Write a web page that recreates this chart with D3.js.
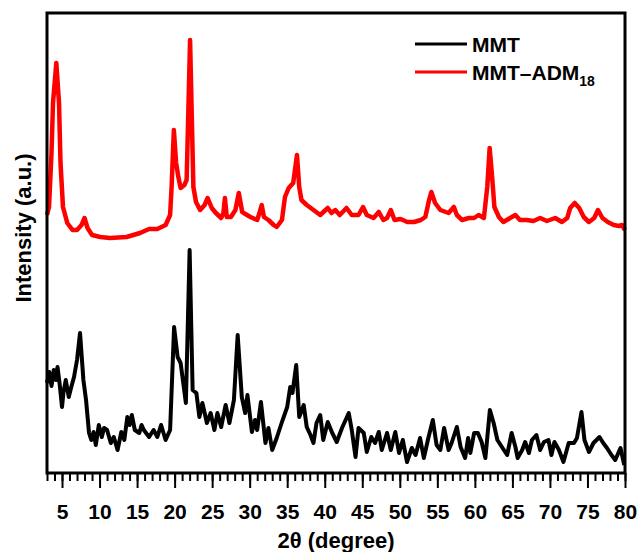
<!DOCTYPE html>
<html>
<head>
<meta charset="utf-8">
<script src="https://cdn.jsdelivr.net/npm/d3@7"></script>
<style>
  body { margin: 0; background: #fff; }
  text { font-family: "Liberation Sans", Arial, sans-serif; font-weight: bold; }
</style>
</head>
<body>
<div id="chart-area"></div>
<script>
const SVG_WIDTH = 640;
const SVG_HEIGHT = 552;
const margin = { left: 47, right: 15, top: 13, bottom: 79 };
const WIDTH = SVG_WIDTH - margin.left - margin.right;
const HEIGHT = SVG_HEIGHT - margin.top - margin.bottom;

// 2theta (degree), intensity in a.u.
const mmtAngle = [3.0, 3.3, 3.6, 3.9, 4.2, 4.4, 4.7, 5.0, 5.2, 5.5, 5.9, 6.2, 6.6, 7.0, 7.4, 7.85, 8.2, 8.6, 8.9, 9.2,
    9.5, 9.9, 10.3, 10.6, 11.0, 11.5, 11.9, 12.4, 12.9, 13.3, 13.7, 14.0, 14.3, 14.7, 15.3, 15.6, 15.9, 16.6, 17.2, 17.7,
    18.2, 18.8, 19.4, 19.93, 20.4, 20.8, 21.1, 21.5, 22.0, 22.4, 22.9, 23.3, 23.7, 24.3, 24.8, 25.3, 25.7, 26.2, 26.8, 27.3,
    27.9, 28.4, 28.95, 29.4, 29.7, 30.3, 30.7, 31.0, 31.5, 32.1, 32.5, 33.0, 33.6, 34.3, 35.0, 35.4, 35.7, 36.2, 36.6, 37.2,
    37.6, 38.1, 38.5, 38.9, 39.4, 39.8, 40.4, 41.0, 41.6, 42.3, 43.2, 43.6, 44.1, 44.5, 45.2, 45.6, 46.2, 46.7, 47.2, 47.6,
    48.3, 48.8, 49.4, 49.9, 50.4, 50.96, 51.6, 52.1, 52.7, 53.2, 53.8, 54.4, 54.9, 55.4, 55.9, 56.5, 56.9, 57.6, 58.1, 58.7,
    59.1, 59.4, 59.9, 60.4, 60.9, 61.4, 62.0, 62.5, 63.0, 63.6, 64.3, 64.9, 65.4, 65.7, 66.3, 66.7, 67.2, 67.6, 68.2, 68.7,
    69.2, 69.8, 70.2, 70.6, 71.2, 71.8, 72.5, 73.2, 73.6, 74.2, 74.6, 75.2, 75.8, 76.6, 77.1, 77.6, 78.2, 78.7, 79.4, 79.9];
const mmtIntensity = [90, 101, 87, 103, 93, 106, 88, 66, 81, 93, 76, 85, 96, 113, 140, 93, 73, 40, 33, 41,
    28, 48, 36, 45, 43, 30, 36, 23, 41, 33, 56, 48, 58, 43, 40, 48, 43, 36, 43, 36,
    48, 33, 43, 146, 116, 110, 93, 70, 223, 83, 80, 56, 70, 50, 60, 43, 60, 46, 68, 50,
    73, 138, 76, 60, 78, 41, 53, 43, 71, 30, 45, 23, 35, 51, 66, 86, 80, 108, 56, 68,
    46, 38, 30, 50, 58, 33, 51, 40, 31, 45, 60, 43, 16, 45, 40, 21, 36, 30, 41, 23,
    40, 23, 41, 20, 33, 11, 25, 18, 35, 15, 35, 53, 28, 23, 45, 23, 30, 46, 26, 15,
    35, 20, 40, 40, 31, 15, 63, 50, 33, 26, 18, 40, 26, 15, 23, 31, 20, 33, 38, 23,
    31, 33, 18, 31, 23, 11, 30, 30, 35, 61, 33, 21, 30, 36, 30, 25, 18, 13, 25, 8];

const admAngle = [3.0, 3.27, 3.6, 3.8, 4.24, 4.6, 4.8, 5.13, 5.7, 6.4, 7.0, 7.6, 8.0, 8.4, 9.0, 10.1, 11.4, 13.6, 15.4, 16.6,
    17.7, 18.8, 19.4, 19.6, 19.9, 20.2, 20.5, 20.8, 21.3, 21.6, 21.8, 22.06, 22.3, 22.5, 22.85, 23.4, 24.0, 24.4, 24.95, 25.5,
    26.2, 26.5, 26.7, 26.95, 27.5, 28.1, 28.55, 29.0, 29.2, 30.1, 31.0, 31.3, 31.6, 31.9, 32.5, 33.2, 33.6, 34.3, 34.7, 35.2,
    35.8, 36.3, 36.6, 36.9, 37.6, 38.5, 39.4, 40.4, 40.9, 41.4, 42.0, 42.9, 43.6, 44.5, 45.1, 45.6, 46.5, 47.2, 47.8, 48.3,
    48.8, 49.3, 50.1, 51.0, 51.9, 52.8, 53.4, 53.9, 54.2, 54.7, 55.4, 56.5, 57.2, 57.6, 58.3, 59.2, 59.9, 60.5, 61.2, 61.65,
    61.97, 62.3, 62.6, 63.2, 63.8, 64.7, 65.4, 66.0, 66.9, 67.8, 68.7, 69.6, 70.7, 71.6, 72.3, 72.7, 73.3, 73.9, 74.5, 75.2,
    75.9, 76.4, 77.0, 77.7, 78.5, 79.2, 79.6, 80.0];
const admIntensity = [258, 266, 320, 370, 410, 370, 310, 266, 250, 243, 243, 248, 255, 245, 238, 236, 235, 236, 240, 244,
    244, 248, 258, 286, 343, 310, 296, 285, 288, 293, 353, 433, 353, 286, 271, 263, 268, 275, 265, 260,
    255, 260, 275, 256, 256, 263, 280, 261, 260, 256, 253, 260, 268, 256, 253, 248, 246, 253, 276, 285,
    290, 318, 286, 273, 268, 263, 258, 265, 260, 263, 258, 265, 258, 258, 266, 258, 255, 261, 253, 255,
    263, 253, 254, 251, 251, 253, 256, 273, 281, 270, 263, 260, 266, 258, 253, 255, 255, 258, 255, 286,
    325, 296, 266, 256, 251, 255, 258, 253, 253, 252, 255, 252, 255, 251, 255, 265, 270, 265, 256, 251,
    255, 263, 255, 251, 248, 247, 248, 243];

const seriesNames = ["MMT", "MMT\u2013ADM"];
const seriesColors = ["#000000", "#ff0000"];
const majorTicks = [5, 10, 15, 20, 25, 30, 35, 40, 45, 50, 55, 60, 65, 70, 75, 80];

const svg = d3.select("#chart-area").append("svg").attr("width", SVG_WIDTH).attr("height", SVG_HEIGHT);
const group = svg.append("g").attr("transform", `translate(${margin.left},${margin.top})`);

const x = d3.scaleLinear().domain([3, 80]).range([0, WIDTH]);
const y = d3.scaleLinear().domain([0, 460]).range([HEIGHT, 0]);

const line = d3.line().x(d => x(d[0])).y(d => y(d[1]));

const series = [
    { name: seriesNames[0], color: seriesColors[0], width: 4, points: d3.zip(mmtAngle, mmtIntensity) },
    { name: seriesNames[1], color: seriesColors[1], width: 4.5, points: d3.zip(admAngle, admIntensity) }
];

series.forEach(s => {
    group.append("path").
        attr("d", line(s.points)).
        attr("fill", "none").
        attr("stroke", s.color).
        attr("stroke-width", s.width).
        attr("stroke-linejoin", "round");
});

// minor ticks every degree, major every 5 degrees
const minorAxis = d3.axisBottom(x).tickValues(d3.range(3, 81)).tickSize(8).tickFormat("");
const majorAxis = d3.axisBottom(x).tickValues(majorTicks).tickSize(15).tickPadding(16).tickFormat(d3.format("d"));

const minorGroup = group.append("g").attr("transform", `translate(0, ${HEIGHT})`).call(minorAxis);
const majorGroup = group.append("g").attr("transform", `translate(0, ${HEIGHT})`).call(majorAxis);
[minorGroup, majorGroup].forEach(g => {
    g.select(".domain").remove();
    g.selectAll(".tick line").attr("stroke", "#000").attr("stroke-width", 2);
});
majorGroup.selectAll(".tick text").
    attr("font-size", "21px").
    attr("fill", "#000");

group.append("rect").
    attr("width", WIDTH).
    attr("height", HEIGHT).
    attr("fill", "none").
    attr("stroke", "#000").
    attr("stroke-width", 3);

group.append("text").
    attr("x", WIDTH / 2).
    attr("y", HEIGHT + 75).
    attr("font-size", "22px").
    attr("text-anchor", "middle").
    text("2\u03b8 (degree)");

group.append("text").
    attr("x", -(228 - margin.top)).
    attr("y", 31 - margin.left).
    attr("font-size", "22px").
    attr("text-anchor", "middle").
    attr("transform", "rotate(-90)").
    text("Intensity (a.u.)");

const legend = group.append("g").attr("transform", `translate(${415 - margin.left}, ${44 - margin.top})`);
series.forEach((s, i) => {
    const row = legend.append("g").attr("transform", `translate(0, ${i * 28})`);
    row.append("line").
        attr("x1", 0).attr("x2", 52).
        attr("y1", 0).attr("y2", 0).
        attr("stroke", s.color).
        attr("stroke-width", 3);
    const label = row.append("text").
        attr("x", 57).
        attr("y", 8).
        attr("font-size", "21px").
        text(s.name);
    if (i === 1) {
        label.append("tspan").attr("font-size", "14px").attr("dy", 6).text("18");
    }
});
</script>
</body>
</html>
